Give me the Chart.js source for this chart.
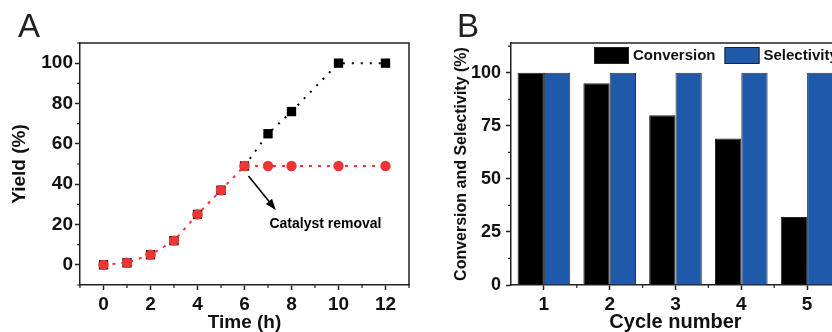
<!DOCTYPE html>
<html>
<head>
<meta charset="utf-8">
<script src="https://cdn.jsdelivr.net/npm/chart.js@4/dist/chart.umd.min.js"></script>
<style>
  html, body { margin: 0; padding: 0; background: #fff; width: 832px; height: 332px; overflow: hidden; position: relative; }
  canvas { position: absolute; top: 0; }
  #ca { left: 0; }
  #cb { left: 420px; }
</style>
</head>
<body>
<canvas id="ca" width="420" height="332"></canvas>
<canvas id="cb" width="440" height="332"></canvas>
<script>
// ---------- Panel A data ----------
const times = [0, 1, 2, 3, 4, 5, 6, 7, 8, 10, 12];
const yieldWithCatalyst = [0, 1, 5, 12, 25, 37, 49, 65, 76, 100, 100];
const yieldCatalystRemoved = [0, 1, 5, 12, 25, 37, 49, 49, 49, 49, 49];
const timeTicks = [0, 2, 4, 6, 8, 10, 12];
const timeMinorTicks = [-1, 1, 3, 5, 7, 9, 11, 13];
const yieldTicks = [0, 20, 40, 60, 80, 100];
const yieldMinorTicks = [-10, 10, 30, 50, 70, 90, 110];
const removalTime = 6;
const annotationText = 'Catalyst removal';

// ---------- Panel B data ----------
const cycles = ['1', '2', '3', '4', '5'];
const conversion = [100, 95, 80, 69, 32];
const selectivity = [100, 100, 100, 100, 100];
const percentTicks = [0, 25, 50, 75, 100];
const percentMinorTicks = [12.5, 37.5, 62.5, 87.5, 112.5];
const cycleMinorTicks = [0.5, 1.5, 2.5, 3.5];

const FONT = "'Liberation Sans', Arial, sans-serif";
const AXIS = '#222';

// Plugin: frame box, minor ticks, panel letter, annotation, inner legend
const framePlugin = {
  id: 'frame',
  afterDraw(chart, args, opts) {
    const ctx = chart.ctx;
    const a = chart.chartArea;
    const xs = chart.scales.x, ys = chart.scales.y;
    ctx.save();
    ctx.strokeStyle = AXIS;
    ctx.lineWidth = 1.5;
    ctx.beginPath();
    ctx.moveTo(a.left, a.top); ctx.lineTo(a.right, a.top); ctx.lineTo(a.right, a.bottom);
    ctx.stroke();
    ctx.lineWidth = 1.2;
    ctx.beginPath();
    (opts.minorX || []).forEach(v => {
      const px = xs.getPixelForValue(v);
      ctx.moveTo(px, a.bottom); ctx.lineTo(px, a.bottom + 3);
    });
    (opts.minorY || []).forEach(v => {
      const py = ys.getPixelForValue(v);
      ctx.moveTo(a.left, py); ctx.lineTo(a.left - 3, py);
    });
    ctx.stroke();
    if (opts.letter) {
      ctx.fillStyle = '#222';
      ctx.font = '33px ' + FONT;
      ctx.textBaseline = 'alphabetic';
      ctx.textAlign = 'left';
      ctx.fillText(opts.letter.text, opts.letter.x, opts.letter.y);
    }
    if (opts.arrow) {
      const r = opts.arrow;
      const x1 = xs.getPixelForValue(r.from[0]), y1 = ys.getPixelForValue(r.from[1]);
      const x2 = xs.getPixelForValue(r.to[0]), y2 = ys.getPixelForValue(r.to[1]);
      ctx.strokeStyle = '#000';
      ctx.fillStyle = '#000';
      ctx.lineWidth = 1.6;
      ctx.beginPath(); ctx.moveTo(x1, y1); ctx.lineTo(x2, y2); ctx.stroke();
      const ang = Math.atan2(y2 - y1, x2 - x1);
      const L = 9, W = 4;
      ctx.beginPath();
      ctx.moveTo(x2 + 2 * Math.cos(ang), y2 + 2 * Math.sin(ang));
      ctx.lineTo(x2 - L * Math.cos(ang) - W * Math.sin(ang), y2 - L * Math.sin(ang) + W * Math.cos(ang));
      ctx.lineTo(x2 - L * Math.cos(ang) + W * Math.sin(ang), y2 - L * Math.sin(ang) - W * Math.cos(ang));
      ctx.closePath(); ctx.fill();
      ctx.font = 'bold 14px ' + FONT;
      ctx.textAlign = 'left';
      ctx.textBaseline = 'middle';
      ctx.fillText(r.text, xs.getPixelForValue(r.textAt[0]), ys.getPixelForValue(r.textAt[1]));
    }
    if (opts.legend) {
      const lg = opts.legend;
      let x = lg.x;
      ctx.font = 'bold 15px ' + FONT;
      ctx.textBaseline = 'middle';
      ctx.textAlign = 'left';
      chart.data.datasets.forEach(ds => {
        ctx.fillStyle = ds.backgroundColor;
        ctx.fillRect(x, lg.y, 35, 17);
        ctx.strokeStyle = '#222';
        ctx.lineWidth = 1;
        ctx.strokeRect(x + 0.5, lg.y + 0.5, 34, 16);
        ctx.fillStyle = '#111';
        ctx.fillText(ds.label, x + 39, lg.y + 9);
        x += 39 + ctx.measureText(ds.label).width + 9;
      });
    }
    ctx.restore();
  }
};

function setTicks(list) {
  return scale => { scale.ticks = list.map(v => ({ value: v })); };
}

// ---------- Chart A ----------
new Chart(document.getElementById('ca'), {
  type: 'line',
  data: {
    datasets: [
      {
        label: 'With catalyst',
        data: times.map((t, i) => ({ x: t, y: yieldWithCatalyst[i] })),
        borderColor: '#000',
        backgroundColor: '#000',
        borderWidth: 2,
        borderDash: [2, 7],
        pointStyle: 'rect',
        pointRadius: 6.6,
        pointBorderWidth: 0,
        segment: {
          borderColor: c => (c.p1.parsed.x <= removalTime ? 'rgba(0,0,0,0)' : '#000')
        },
        order: 2
      },
      {
        label: 'Catalyst removed',
        data: times.map((t, i) => ({ x: t, y: yieldCatalystRemoved[i] })),
        borderColor: '#ec3535',
        backgroundColor: '#ec3535',
        borderWidth: 2,
        borderDash: [3, 6],
        pointStyle: 'circle',
        pointRadius: 5.2,
        pointBorderWidth: 0,
        order: 1
      }
    ]
  },
  options: {
    responsive: false,
    animation: false,
    layout: { padding: { top: 43, right: 11, left: 0, bottom: 0 } },
    plugins: {
      legend: { display: false },
      tooltip: { enabled: false },
      frame: {
        minorX: timeMinorTicks,
        minorY: yieldMinorTicks,
        letter: { text: 'A', x: 18, y: 37 },
        arrow: { from: [6.17, 44], to: [7.28, 28], textAt: [7.06, 20], text: annotationText }
      }
    },
    scales: {
      x: {
        type: 'linear',
        min: -1, max: 13,
        afterBuildTicks: setTicks(timeTicks),
        afterFit: s => { s.height = 47; },
        grid: { drawOnChartArea: false, drawTicks: true, tickLength: 5, tickWidth: 1.5, tickColor: AXIS },
        border: { display: true, color: AXIS, width: 1.5 },
        ticks: { color: '#111', padding: 3, maxRotation: 0, font: { family: FONT, size: 19, weight: 'bold' } },
        title: { display: true, text: 'Time (h)', color: '#111', padding: 0, font: { family: FONT, size: 19, weight: 'bold', lineHeight: 1 } }
      },
      y: {
        type: 'linear',
        min: -10, max: 110,
        afterBuildTicks: setTicks(yieldTicks),
        afterFit: s => { s.width = 80; },
        grid: { drawOnChartArea: false, drawTicks: true, tickLength: 5, tickWidth: 1.5, tickColor: AXIS },
        border: { display: true, color: AXIS, width: 1.5 },
        ticks: { color: '#111', padding: 2, font: { family: FONT, size: 19, weight: 'bold' } },
        title: { display: true, text: 'Yield (%)', color: '#111', padding: { top: 10, bottom: 0 }, font: { family: FONT, size: 19, weight: 'bold', lineHeight: 1 } }
      }
    }
  },
  plugins: [framePlugin]
});

// ---------- Chart B ----------
new Chart(document.getElementById('cb'), {
  type: 'bar',
  data: {
    labels: cycles,
    datasets: [
      { label: 'Conversion', data: conversion, backgroundColor: '#000000', borderColor: '#222', borderWidth: 1 },
      { label: 'Selectivity', data: selectivity, backgroundColor: '#1f5aaa', borderColor: '#333', borderWidth: 1 }
    ]
  },
  options: {
    responsive: false,
    animation: false,
    layout: { padding: { top: 43, right: 20, left: 0, bottom: 0 } },
    datasets: { bar: { categoryPercentage: 0.8, barPercentage: 1.0 } },
    plugins: {
      legend: { display: false },
      tooltip: { enabled: false },
      frame: {
        minorX: cycleMinorTicks,
        minorY: percentMinorTicks,
        letter: { text: 'B', x: 37, y: 37 },
        legend: { x: 174, y: 47 }
      }
    },
    scales: {
      x: {
        type: 'category',
        offset: true,
        afterFit: s => { s.height = 47; },
        grid: { offset: false, drawOnChartArea: false, drawTicks: true, tickLength: 5, tickWidth: 1.5, tickColor: AXIS },
        border: { display: true, color: AXIS, width: 1.5 },
        ticks: { color: '#111', padding: 3, maxRotation: 0, font: { family: FONT, size: 19, weight: 'bold' } },
        title: { display: true, text: 'Cycle number', color: '#111', padding: 0, font: { family: FONT, size: 20, weight: 'bold', lineHeight: 1 } }
      },
      y: {
        type: 'linear',
        min: 0, max: 114,
        afterBuildTicks: setTicks(percentTicks),
        afterFit: s => { s.width = 91; },
        grid: { drawOnChartArea: false, drawTicks: true, tickLength: 5, tickWidth: 1.5, tickColor: AXIS },
        border: { display: true, color: AXIS, width: 1.5 },
        ticks: { color: '#111', padding: 5, font: { family: FONT, size: 18, weight: 'bold' } },
        title: { display: true, text: 'Conversion and Selectivity (%)', color: '#111', padding: { top: 34, bottom: 0 }, font: { family: FONT, size: 16, weight: 'bold', lineHeight: 1 } }
      }
    }
  },
  plugins: [framePlugin]
});
</script>
</body>
</html>
